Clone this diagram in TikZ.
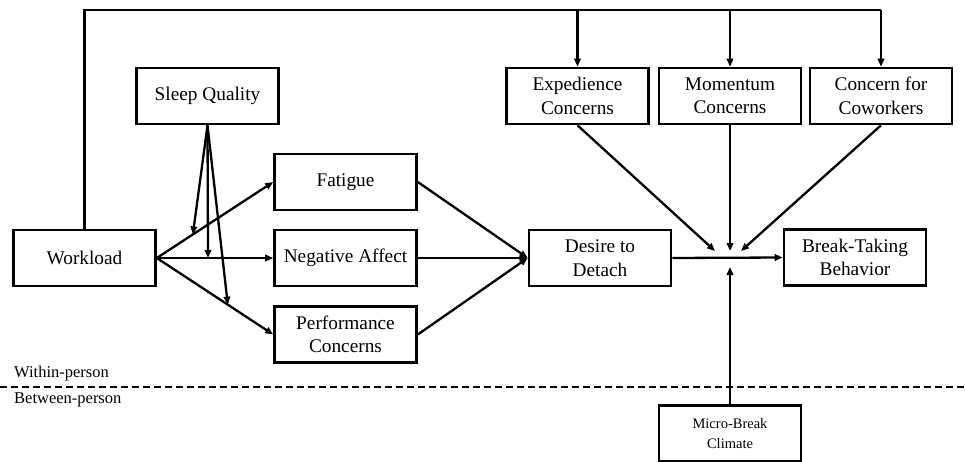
\documentclass[tikz,border=0pt]{standalone}
\usepackage{fontspec}
\setmainfont{Liberation Serif}
\usetikzlibrary{arrows.meta,calc}
\begin{document}
\begin{tikzpicture}[x=1pt,y=-1pt,
  box/.style={draw,line width=2.6pt,minimum width=142pt,minimum height=56pt,inner sep=0pt,align=center,font=\fontsize{19.3}{23.5}\selectfont},
  conn/.style={line width=2.3pt,-{Triangle[length=8pt,width=6.5pt]}},
  plain/.style={line width=2.3pt},
  lbl/.style={inner sep=0pt,anchor=base west,font=\fontsize{16.5}{20}\selectfont}]
\useasboundingbox (0,0) rectangle (965,462);
\node[box] (wl) at (84.5,258) {Workload};
\node[box] (sq) at (207.5,96) {Sleep Quality};
\node[box] (fa) at (345.5,182) {Fatigue};
\node[box] (na) at (345.5,258) {Negative Affect};
\node[box] (pc) at (345.5,334.5) {Performance\\Concerns};
\node[box] (dd) at (600,258) {Desire to\\Detach};
\node[box] (bt) at (855,257.5) {Break-Taking\\Behavior};
\node[box] (ec) at (577.5,96) {Expedience\\Concerns};
\node[box] (mc) at (730,96) {Momentum\\Concerns};
\node[box] (cc) at (881,96) {Concern for\\Coworkers};
\node[box,font=\fontsize{14.5}{20}\selectfont] (mb) at (730,433.5) {Micro-Break\\Climate};
% top line
\coordinate (T) at (0,10);
\draw[plain] (wl.north) -- (wl.north |- T) -- (cc.north |- T);
\draw[conn] (cc.north |- T) -- (cc.north);
\draw[conn] (ec.north |- T) -- (ec.north);
\draw[conn] (mc.north |- T) -- (mc.north);
% workload to mediators
\draw[conn] (wl.east) -- (fa.west);
\draw[conn] (wl.east) -- (na.west);
\draw[conn] (wl.east) -- (pc.west);
% sleep quality moderation
\coordinate (s1) at ($(wl.east)!0.31!(fa.west)$);
\coordinate (s2) at ($(wl.east)!0.44!(na.west)$);
\coordinate (s3) at ($(wl.east)!0.61!(pc.west)$);
\draw[conn] (sq.south) -- (s1);
\draw[conn] (sq.south) -- (s2);
\draw[conn] (sq.south) -- (s3);
% mediators to desire
\draw[conn] (fa.east) -- (dd.west);
\draw[conn] (na.east) -- (dd.west);
\draw[conn] (pc.east) -- (dd.west);
% desire to break-taking
\draw[conn] (dd.east) -- (bt.west);
% moderators
\coordinate (m1) at (715,251);
\coordinate (m2) at (730,251);
\coordinate (m3) at (741,251);
\coordinate (m4) at (730,267);
\draw[conn] (ec.south) -- (m1);
\draw[conn] (mc.south) -- (m2);
\draw[conn] (cc.south) -- (m3);
\draw[conn] (mb.north) -- (m4);
% level divider
\coordinate (dl) at (0,387);
\coordinate (dr) at (965,387);
\draw[line width=2.6pt,dash pattern=on 7pt off 4pt] (dl) -- (dr);
\node[lbl] (wp) at (14,377) {Within-person};
\node[lbl] (bp) at (14,403) {Between-person};
\end{tikzpicture}
\end{document}
